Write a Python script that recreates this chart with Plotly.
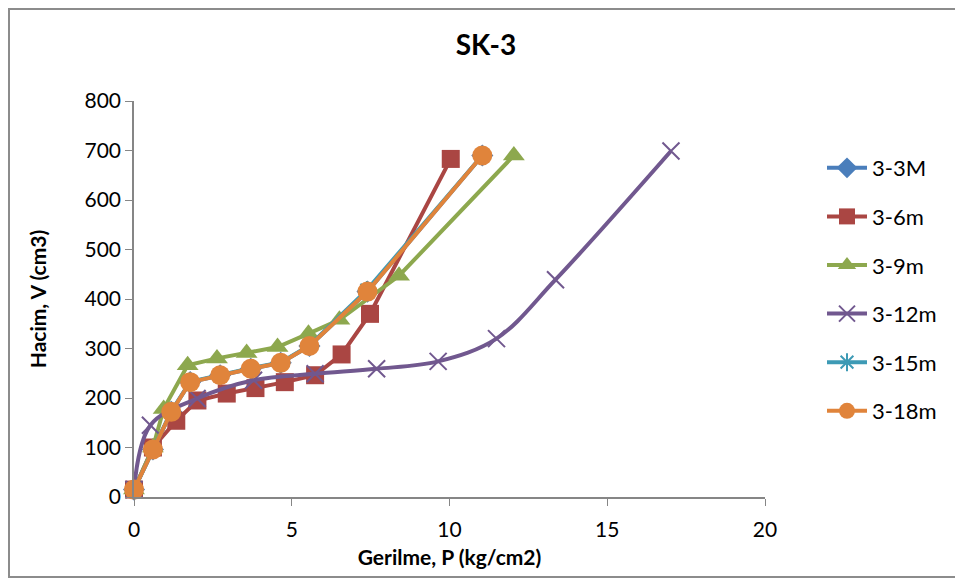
import plotly.graph_objects as go

# ---- data ----
x_3m = [0, 0.6, 1.18, 1.78, 2.73, 3.7, 4.65, 5.56, 7.4, 11.04]
v_3m = [15, 96, 172, 232, 246, 259, 271, 305, 415, 690]

x_6m = [0, 0.6, 1.34, 2.01, 2.94, 3.85, 4.78, 5.74, 6.58, 7.48, 10.04]
v_6m = [15, 100, 154, 195, 209, 220, 232, 246, 288, 370, 683]

x_9m = [0, 0.6, 0.94, 1.70, 2.63, 3.57, 4.55, 5.53, 6.51, 8.4, 12.04]
v_9m = [15, 100, 178, 266, 280, 291, 303, 330, 358, 447, 690]

x_12m = [0, 0.52, 2.0, 3.79, 5.74, 7.69, 9.64, 11.49, 13.36, 17.02]
v_12m = [15, 145, 199, 236, 249, 259, 274, 320, 439, 699]

x_15m = [0, 0.6, 1.18, 1.78, 2.73, 3.7, 4.65, 5.56, 7.38, 11.04]
v_15m = [15, 96, 173, 233, 247, 260, 272, 306, 418, 690]

x_18m = [0, 0.6, 1.18, 1.78, 2.73, 3.7, 4.65, 5.56, 7.4, 11.04]
v_18m = [15, 96, 172, 232, 246, 259, 271, 305, 415, 690]

names = ["3-3M", "3-6m", "3-9m", "3-12m", "3-15m", "3-18m"]
x_ticks = [0, 5, 10, 15, 20]
y_ticks = [0, 100, 200, 300, 400, 500, 600, 700, 800]

FONT = "Lato, 'Open Sans', sans-serif"
AXIS_GRAY = "#868686"

series = [
    (x_3m, v_3m, "#4A7EBB", dict(symbol="diamond", size=17), "linear"),
    (x_6m, v_6m, "#AA4643", dict(symbol="square", size=18), "linear"),
    (x_9m, v_9m, "#8DA84E", dict(symbol="triangle-up", size=19), "linear"),
    (x_12m, v_12m, "#71588F", dict(symbol="x-thin-open", size=17,
                                    line=dict(width=2, color="#71588F")), "spline"),
    (x_15m, v_15m, "#3D9AB5", dict(symbol="asterisk-open", size=15,
                                    line=dict(width=2, color="#3D9AB5")), "linear"),
    (x_18m, v_18m, "#E0843B", dict(symbol="circle", size=20), "linear"),
]

fig = go.Figure()
for (xs, vs, col, mk, shp), nm in zip(series, names):
    mk = dict(mk)
    mk["color"] = col
    fig.add_trace(go.Scatter(
        x=xs, y=vs, name=nm, mode="lines+markers",
        line=dict(color=col, width=4, shape=shp, smoothing=1.0),
        marker=mk, cliponaxis=False, legendgroup=nm,
    ))

# page body has an 8px margin: screen coords = figure coords + 8
OFF = 8
W, H = 955, 572
# plot area in screen pixels: left 134, right 765, top 101, bottom 497
L, R, T, B = 134 - OFF, 765 - OFF, 101 - OFF, 497 - OFF
pw, ph = R - L, B - T


def px_x(sx):
    return (sx - OFF - L) / pw


def px_y(sy):
    return (B - (sy - OFF)) / ph


fig.update_layout(
    width=W, height=H,
    margin=dict(l=L, r=W - R, t=T, b=H - B),
    paper_bgcolor="white", plot_bgcolor="white",
    font=dict(family=FONT, size=21, color="black"),
    title=dict(text="<b>SK-3</b>", x=px_x(486), xref="paper", xanchor="center",
               y=1 - (45 - OFF) / H, yanchor="middle", font=dict(size=28, family=FONT)),
    showlegend=True,
    legend=dict(x=px_x(822), y=px_y(147), xanchor="left", yanchor="top",
                font=dict(size=22, family=FONT), tracegroupgap=17,
                bgcolor="rgba(0,0,0,0)", itemwidth=40),
    xaxis=dict(range=[0, 20], tickvals=x_ticks, ticks="outside", ticklen=7,
               tickcolor=AXIS_GRAY, showline=True, linecolor=AXIS_GRAY, linewidth=1.5,
               showgrid=False, zeroline=False, ticklabelstandoff=6,
               title=dict(text="<b>Gerilme, P (kg/cm2)</b>", standoff=10,
                          font=dict(size=21, family=FONT))),
    yaxis=dict(range=[0, 800], tickvals=y_ticks, ticks="outside", ticklen=7,
               tickcolor=AXIS_GRAY, showline=True, linecolor=AXIS_GRAY, linewidth=1.5,
               showgrid=False, zeroline=False,
               title=dict(text="<b>Hacim, V (cm3)</b>", standoff=32,
                          font=dict(size=21, family=FONT))),
    shapes=[dict(type="rect", xref="paper", yref="paper",
                 x0=px_x(9), x1=px_x(985), y0=px_y(577), y1=px_y(9),
                 line=dict(color="#8C8C8C", width=2), fillcolor="rgba(0,0,0,0)",
                 layer="below")],
)

fig.write_html("out.html")
